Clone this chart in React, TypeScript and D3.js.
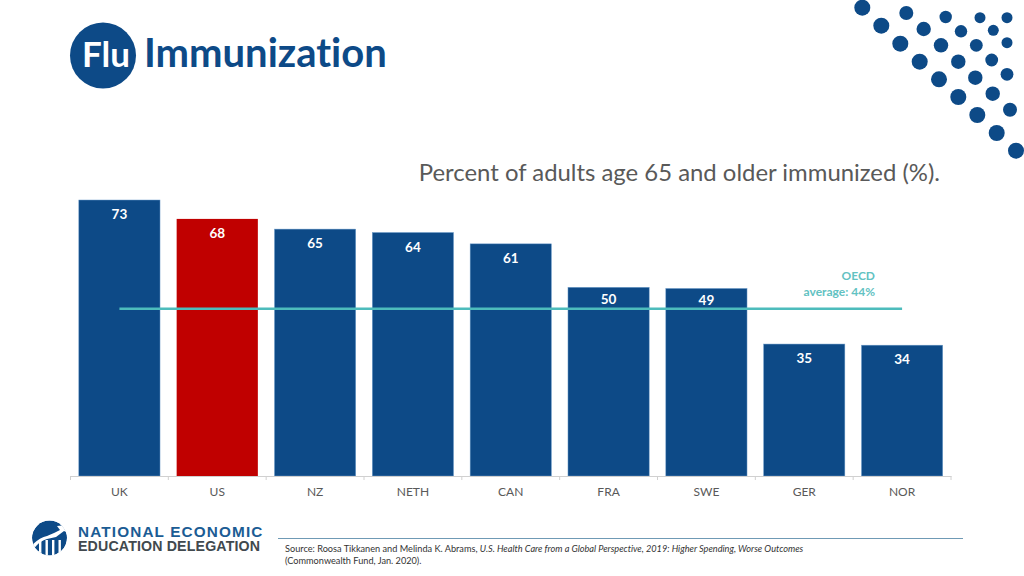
import React, { useEffect, useRef } from 'react';
import * as d3 from 'd3';

const countries = ['UK', 'US', 'NZ', 'NETH', 'CAN', 'FRA', 'SWE', 'GER', 'NOR'];
// bar heights, printed labels are the whole numbers on the slide
const immunized = [73, 68, 65.3, 64.4, 61.4, 49.9, 49.6, 34.9, 34.6];
const valueLabels = ['73', '68', '65', '64', '61', '50', '49', '35', '34'];
const oecdAverage = 44;
const highlighted = 'US';

// corner decoration: [cx, cy, r]
const cornerDots: [number, number, number][] = [
  [862.3, 7.7, 8], [906.3, 13, 7], [945.7, 17, 6.2], [980, 17.7, 5.5], [1007, 17.7, 5.5],
  [881.3, 25.7, 8], [923.7, 29, 7.2], [961, 31.3, 6.2], [993.3, 30.3, 5.5],
  [900.3, 43.7, 8], [941, 45.3, 7.2], [976.3, 45.3, 6.4], [1007, 42.7, 5.5],
  [919.7, 61.7, 8], [958.3, 61.7, 7.2], [991.7, 60, 6.4],
  [939, 79.3, 8], [975.3, 77.7, 7.2], [1007, 74.3, 6.4],
  [958.3, 97, 8], [992.7, 93.7, 7.2],
  [977.3, 115, 8], [1010, 109.7, 7],
  [996.7, 133, 8], [1016, 150.7, 8],
];

const BLUE = '#0d4a87';
const RED = '#c00000';
const TEAL = '#4dbcbc';
const FONT = 'Lato, "Open Sans", sans-serif';
const LOGO_FONT = '"Liberation Sans", Arial, sans-serif';

const App: React.FC = () => {
  const svgRef = useRef<SVGSVGElement | null>(null);

  useEffect(() => {
    if (!svgRef.current) return;
    const svg = d3.select(svgRef.current);
    svg.selectAll('*').remove();
    svg.attr('font-family', FONT).style('font-variant-ligatures', 'none');

    const x = d3.scaleBand<string>()
      .domain(countries)
      .range([70.5, 951])
      .paddingInner(0.17)
      .paddingOuter(0.085);
    const y = d3.scaleLinear().domain([0, 73]).range([476, 200]);
    const data = countries.map((c, i) => ({ country: c, value: immunized[i], label: valueLabels[i] }));
    const lineY = y(oecdAverage) - 1;

    // header
    svg.append('circle').attr('cx', 103).attr('cy', 55.5).attr('r', 33).attr('fill', BLUE);
    svg.append('text').attr('x', 82).attr('y', 67).attr('font-size', 35).attr('font-weight', 700)
      .attr('fill', '#fff').text('Flu');
    svg.append('text').attr('x', 144).attr('y', 67).attr('font-size', 40).attr('font-weight', 700)
      .attr('fill', BLUE).text('Immunization');

    svg.append('g').selectAll('circle').data(cornerDots).enter().append('circle')
      .attr('cx', d => d[0]).attr('cy', d => d[1]).attr('r', d => d[2]).attr('fill', BLUE);

    svg.append('text').attr('x', 940).attr('y', 181).attr('text-anchor', 'end')
      .attr('font-size', 23.9).attr('fill', '#595959')
      .text('Percent of adults age 65 and older immunized (%).');

    // bars
    svg.append('g').selectAll('rect').data(data).enter().append('rect')
      .attr('x', d => x(d.country) || 0)
      .attr('y', d => y(d.value))
      .attr('width', x.bandwidth())
      .attr('height', d => y(0) - y(d.value))
      .attr('fill', d => (d.country === highlighted ? RED : BLUE))
      .attr('stroke', d => (d.country === highlighted ? 'none' : '#6d9bc9'))
      .attr('stroke-width', 0.5);

    // labels sit 2px higher when they would run into the OECD line
    svg.append('g').selectAll('text').data(data).enter().append('text')
      .attr('x', d => (x(d.country) || 0) + x.bandwidth() / 2)
      .attr('y', d => y(d.value) + (Math.abs(y(d.value) + 14 - lineY) < 12 ? 17 : 19))
      .attr('text-anchor', 'middle')
      .attr('font-size', 13.5)
      .attr('font-weight', 700)
      .attr('fill', '#fff')
      .text(d => d.label);

    // axis with ticks on the band edges
    const axis = svg.append('g').attr('transform', 'translate(0,476)');
    axis.call(d3.axisBottom(x).tickSize(0).tickPadding(11));
    axis.select('.domain').attr('stroke', '#d0d0d0');
    axis.selectAll('.tick text').attr('font-family', FONT).attr('font-size', 12).attr('fill', '#595959');
    d3.range(countries.length + 1).forEach(i => {
      const tx = 70.5 + i * x.step();
      axis.append('line').attr('x1', tx).attr('x2', tx).attr('y1', 0).attr('y2', 4).attr('stroke', '#d0d0d0');
    });

    // OECD line
    const first = x(countries[0]) || 0;
    const last = x(countries[countries.length - 1]) || 0;
    svg.append('line')
      .attr('x1', first + x.bandwidth() / 2).attr('x2', last + x.bandwidth() / 2)
      .attr('y1', lineY).attr('y2', lineY)
      .attr('stroke', TEAL).attr('stroke-width', 2.5);
    const oecd = svg.append('text').attr('text-anchor', 'end').attr('font-size', 12)
      .attr('font-weight', 700).attr('fill', '#62c2c2');
    oecd.append('tspan').attr('x', 875).attr('y', 280).text('OECD');
    oecd.append('tspan').attr('x', 875).attr('y', 295.5).text('average: 44%');

    // NEED logo
    svg.append('clipPath').attr('id', 'logo-clip').append('circle')
      .attr('cx', 49.5).attr('cy', 538).attr('r', 17.5);
    const logo = svg.append('g').attr('clip-path', 'url(#logo-clip)');
    logo.append('circle').attr('cx', 49.5).attr('cy', 538).attr('r', 17.5).attr('fill', BLUE);
    logo.append('path')
      .attr('d', 'M31 546 Q40 537 47 536 L54 533 L60 530 L57 526 L68 525 L68 533 L64 531 L56 537 L47 539 Q39 541 33 550 Z')
      .attr('fill', '#fff');
    [39, 45.5, 52, 58.5].forEach(bx => {
      logo.append('rect').attr('x', bx).attr('y', 540).attr('width', 2.4).attr('height', 18).attr('fill', '#fff');
    });
    svg.append('text').attr('x', 78).attr('y', 536.5).attr('font-family', LOGO_FONT)
      .attr('font-size', 15.3).attr('font-weight', 700).attr('letter-spacing', 1.15).attr('fill', '#1b5c94')
      .text('NATIONAL ECONOMIC');
    svg.append('text').attr('x', 78).attr('y', 551).attr('font-family', LOGO_FONT)
      .attr('font-size', 14.2).attr('font-weight', 700).attr('letter-spacing', 0.15).attr('fill', '#41494e')
      .text('EDUCATION DELEGATION');

    // source
    svg.append('line').attr('x1', 278).attr('x2', 963).attr('y1', 538.5).attr('y2', 538.5)
      .attr('stroke', '#6f9ab5').attr('stroke-width', 1);
    const source = svg.append('text').attr('font-size', 9.18).attr('fill', '#333');
    source.append('tspan').attr('x', 285).attr('y', 551.5).text('Source: Roosa Tikkanen and Melinda K. Abrams, ');
    source.append('tspan').attr('font-style', 'italic')
      .text('U.S. Health Care from a Global Perspective, 2019: Higher Spending, Worse Outcomes');
    svg.append('text').attr('x', 285).attr('y', 564).attr('font-size', 9.18).attr('fill', '#333')
      .text('(Commonwealth Fund, Jan. 2020).');
  }, []);

  return (
    <svg
      ref={svgRef}
      width="1024"
      height="576"
      style={{ position: 'absolute', left: 0, top: 0, background: '#fff' }}
    ></svg>
  );
};

export default App;
